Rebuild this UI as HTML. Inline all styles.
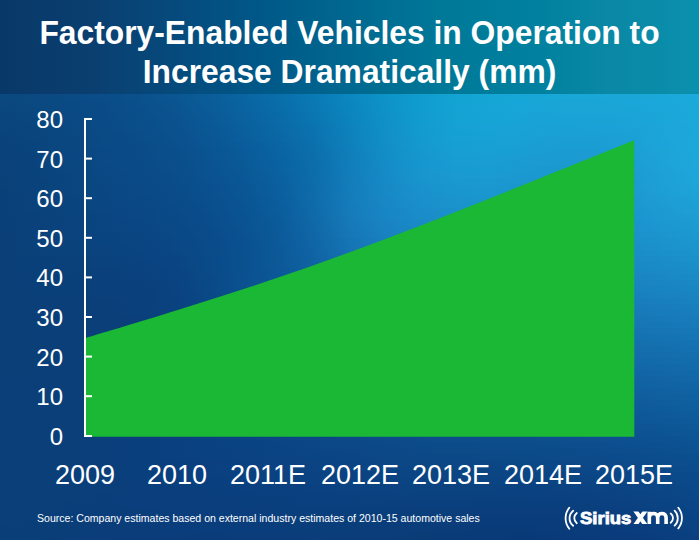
<!DOCTYPE html>
<html><head><meta charset="utf-8">
<style>
html,body{margin:0;padding:0;}
body{width:699px;height:540px;overflow:hidden;position:relative;font-family:"Liberation Sans",sans-serif;color:#fff;background:#0b4080;}
.r{position:absolute;left:0;width:699px;height:6px;}
#hdr{position:absolute;left:0;top:0;width:699px;height:94px;background:linear-gradient(90deg,#083868 0px,#0a3f70 90px,#064a7c 175px,#005888 260px,#006890 350px,#007898 440px,#00809e 525px,#0a88a5 610px,#0a90ad 699px);}
.title{position:absolute;left:0;width:699px;text-align:center;font-weight:bold;font-size:31.8px;white-space:nowrap;line-height:1;transform:scaleY(1.04);transform-origin:50% 0;}
.yl{position:absolute;right:636px;font-size:24px;line-height:1;text-align:right;}
.xl{position:absolute;font-size:27px;line-height:1;text-align:center;width:120px;}
#src{position:absolute;left:36.7px;top:511.5px;font-size:11.6px;letter-spacing:0;transform:scaleX(0.91);transform-origin:0 0;line-height:1;white-space:nowrap;}
</style></head><body>
<div class="r" style="top:94px;background:linear-gradient(90deg,#0a497f 0px,#0a4981 35px,#0a4b84 70px,#0a4d88 105px,#0a518c 140px,#0a5692 175px,#0a5d99 210px,#0965a2 245px,#096fab 280px,#097ab5 315px,#0b87bf 350px,#0d93c8 385px,#109cce 420px,#12a3d3 455px,#15a6d6 490px,#17a7d7 525px,#18a7d7 560px,#19a7d8 595px,#1aa7d8 630px,#1aa8d9 665px,#1aaadb 699px)"></div>
<div class="r" style="top:100px;background:linear-gradient(90deg,#0a487e 0px,#0a4981 35px,#0a4a84 70px,#0a4c87 105px,#0a508c 140px,#0a5591 175px,#0a5c98 210px,#0964a1 245px,#096eaa 280px,#0a79b4 315px,#0b86be 350px,#0e92c7 385px,#109cce 420px,#13a3d3 455px,#15a6d6 490px,#17a6d7 525px,#19a6d7 560px,#19a6d7 595px,#1aa6d8 630px,#1aa7d9 665px,#1baada 699px)"></div>
<div class="r" style="top:106px;background:linear-gradient(90deg,#0a477e 0px,#0a4880 35px,#0a4983 70px,#0a4c87 105px,#0a4f8b 140px,#0a5490 175px,#0a5b98 210px,#0963a0 245px,#096daa 280px,#0a78b3 315px,#0b85be 350px,#0e92c7 385px,#119cce 420px,#13a2d3 455px,#16a5d6 490px,#18a5d7 525px,#19a5d6 560px,#1aa5d6 595px,#1aa5d7 630px,#1ba7d9 665px,#1ba9da 699px)"></div>
<div class="r" style="top:112px;background:linear-gradient(90deg,#0a467d 0px,#0a4780 35px,#0a4983 70px,#0a4b86 105px,#0a4f8a 140px,#0a5390 175px,#0a5a97 210px,#0a629f 245px,#096ba9 280px,#0a77b2 315px,#0c84bd 350px,#0f91c7 385px,#119bce 420px,#14a2d3 455px,#16a4d6 490px,#18a4d6 525px,#19a3d6 560px,#1aa3d6 595px,#1aa4d7 630px,#1ba6d8 665px,#1ba9da 699px)"></div>
<div class="r" style="top:118px;background:linear-gradient(90deg,#0a457c 0px,#0a477f 35px,#0a4882 70px,#0a4b86 105px,#0a4e8a 140px,#0a528f 175px,#0a5996 210px,#0a619e 245px,#0a6aa7 280px,#0a76b1 315px,#0c83bd 350px,#0f90c7 385px,#129bce 420px,#14a1d3 455px,#16a4d5 490px,#18a3d6 525px,#19a2d5 560px,#1aa2d5 595px,#1ba3d6 630px,#1ba6d8 665px,#1ca9da 699px)"></div>
<div class="r" style="top:124px;background:linear-gradient(90deg,#0a457c 0px,#0a467e 35px,#0a4882 70px,#0a4b86 105px,#0a4e8a 140px,#0a528e 175px,#0a5895 210px,#0a609d 245px,#0a69a6 280px,#0a74b0 315px,#0d82bc 350px,#1090c7 385px,#139ace 420px,#15a1d3 455px,#17a3d5 490px,#19a2d5 525px,#19a1d5 560px,#1aa1d5 595px,#1ba2d6 630px,#1ca5d8 665px,#1ca8da 699px)"></div>
<div class="r" style="top:130px;background:linear-gradient(90deg,#0a447b 0px,#0a457e 35px,#0a4882 70px,#0a4a85 105px,#0a4d89 140px,#0a518e 175px,#0a5794 210px,#0a5f9d 245px,#0a68a5 280px,#0b73b0 315px,#0d81bc 350px,#118fc6 385px,#139ace 420px,#15a0d3 455px,#17a2d5 490px,#19a1d5 525px,#1aa0d4 560px,#1aa0d4 595px,#1ba1d5 630px,#1ca5d8 665px,#1ca8da 699px)"></div>
<div class="r" style="top:136px;background:linear-gradient(90deg,#0a437a 0px,#0a457d 35px,#0a4781 70px,#0a4a85 105px,#0a4d89 140px,#0a518d 175px,#0a5694 210px,#0a5e9c 245px,#0a67a4 280px,#0b72af 315px,#0e81bb 350px,#118fc6 385px,#1499ce 420px,#16a0d3 455px,#18a1d4 490px,#19a0d4 525px,#1a9ed3 560px,#1a9ed3 595px,#1ba0d5 630px,#1ca5d8 665px,#1da8da 699px)"></div>
<div class="r" style="top:142px;background:linear-gradient(90deg,#0a437a 0px,#0a447d 35px,#0a4781 70px,#0a4a85 105px,#0a4c88 140px,#0a508d 175px,#0a5593 210px,#0a5c9b 245px,#0a65a3 280px,#0b71ae 315px,#0e80bb 350px,#128ec6 385px,#1599ce 420px,#169fd3 455px,#18a0d4 490px,#199fd3 525px,#1a9dd3 560px,#1a9dd3 595px,#1ba0d4 630px,#1ca4d8 665px,#1da8da 699px)"></div>
<div class="r" style="top:148px;background:linear-gradient(90deg,#0a427a 0px,#0a447d 35px,#0a4781 70px,#0a4985 105px,#0a4c88 140px,#0a4f8c 175px,#0a5492 210px,#0a5b9a 245px,#0a64a3 280px,#0c70ad 315px,#0f7fba 350px,#138dc6 385px,#1598ce 420px,#179ed3 455px,#189fd3 490px,#199ed3 525px,#1a9cd2 560px,#1a9cd2 595px,#1b9fd4 630px,#1da4d7 665px,#1da8da 699px)"></div>
<div class="r" style="top:154px;background:linear-gradient(90deg,#0a4279 0px,#0a437c 35px,#0a4681 70px,#0a4984 105px,#0a4b88 140px,#0a4f8c 175px,#0a5492 210px,#0a5b99 245px,#0a63a2 280px,#0c6fac 315px,#107eba 350px,#138dc6 385px,#1697ce 420px,#179dd2 455px,#199ed3 490px,#1a9cd2 525px,#1a9bd1 560px,#1b9bd2 595px,#1b9ed4 630px,#1da3d7 665px,#1da7da 699px)"></div>
<div class="r" style="top:160px;background:linear-gradient(90deg,#0a4179 0px,#0a437c 35px,#0a4680 70px,#0a4984 105px,#0a4b87 140px,#0a4e8b 175px,#0a5391 210px,#0a5a98 245px,#0a62a1 280px,#0c6eac 315px,#107eba 350px,#148cc6 385px,#1696ce 420px,#189cd2 455px,#199dd2 490px,#1a9bd1 525px,#1a9ad1 560px,#1b9ad1 595px,#1b9dd3 630px,#1da3d7 665px,#1ea7da 699px)"></div>
<div class="r" style="top:166px;background:linear-gradient(90deg,#0a4179 0px,#0a437c 35px,#0a4680 70px,#0a4884 105px,#0a4b87 140px,#0a4e8b 175px,#0a5290 210px,#0a5997 245px,#0b62a0 280px,#0d6dac 315px,#117dba 350px,#158bc6 385px,#1796cd 420px,#189bd1 455px,#199cd2 490px,#1a9ad1 525px,#1a98d0 560px,#1b99d0 595px,#1c9cd3 630px,#1da2d7 665px,#1ea6da 699px)"></div>
<div class="r" style="top:172px;background:linear-gradient(90deg,#0a4178 0px,#0a437c 35px,#0a4580 70px,#0a4884 105px,#0a4a87 140px,#0a4d8a 175px,#0a5290 210px,#0a5897 245px,#0b619f 280px,#0d6dab 315px,#127dba 350px,#158bc6 385px,#1895cd 420px,#199ad1 455px,#1a9bd1 490px,#1a99d0 525px,#1a97cf 560px,#1b98d0 595px,#1c9bd2 630px,#1da1d6 665px,#1ea6d9 699px)"></div>
<div class="r" style="top:178px;background:linear-gradient(90deg,#0a4178 0px,#0a427b 35px,#0a457f 70px,#0a4883 105px,#0a4a86 140px,#0a4d8a 175px,#0a518f 210px,#0a5796 245px,#0b609f 280px,#0e6dab 315px,#137dba 350px,#168ac6 385px,#1894cc 420px,#1999d0 455px,#1a99d0 490px,#1a98cf 525px,#1a96cf 560px,#1b97cf 595px,#1c9ad2 630px,#1da1d6 665px,#1ea5d9 699px)"></div>
<div class="r" style="top:184px;background:linear-gradient(90deg,#0a4178 0px,#0a427b 35px,#0a457f 70px,#0a4783 105px,#0a4986 140px,#0a4c8a 175px,#0a508f 210px,#0a5695 245px,#0b5f9e 280px,#0e6cab 315px,#137cba 350px,#1789c5 385px,#1992cc 420px,#1997cf 455px,#1a98cf 490px,#1a96ce 525px,#1b95ce 560px,#1b96cf 595px,#1c9ad1 630px,#1da0d5 665px,#1ea4d8 699px)"></div>
<div class="r" style="top:190px;background:linear-gradient(90deg,#0a4078 0px,#0a427b 35px,#0a457f 70px,#0a4782 105px,#0a4986 140px,#0a4b89 175px,#0a508e 210px,#0a5695 245px,#0b5f9e 280px,#0f6cab 315px,#147cba 350px,#1789c5 385px,#1991cb 420px,#1a96ce 455px,#1a97ce 490px,#1a95ce 525px,#1b94cd 560px,#1b95ce 595px,#1c99d1 630px,#1d9fd5 665px,#1da3d7 699px)"></div>
<div class="r" style="top:196px;background:linear-gradient(90deg,#0a4078 0px,#0a427b 35px,#0a447f 70px,#0a4782 105px,#0a4885 140px,#0a4b89 175px,#0a4f8e 210px,#0a5594 245px,#0b5e9d 280px,#0f6cab 315px,#157cba 350px,#1888c5 385px,#1990cb 420px,#1a94cd 455px,#1a95cd 490px,#1a94cd 525px,#1b93cd 560px,#1b94cd 595px,#1c98d0 630px,#1d9dd4 665px,#1da1d7 699px)"></div>
<div class="r" style="top:202px;background:linear-gradient(90deg,#0a4078 0px,#0a427b 35px,#0a447e 70px,#0a4682 105px,#0a4885 140px,#0a4a88 175px,#0a4e8d 210px,#0a5493 245px,#0b5d9c 280px,#106baa 315px,#157bba 350px,#1887c4 385px,#1a8fca 420px,#1a93cc 455px,#1a94cc 490px,#1a93cc 525px,#1b92cc 560px,#1b93cd 595px,#1c97cf 630px,#1c9cd3 665px,#1da0d6 699px)"></div>
<div class="r" style="top:208px;background:linear-gradient(90deg,#0a4078 0px,#0a427b 35px,#0a447e 70px,#0a4681 105px,#0a4784 140px,#0a4a88 175px,#0a4e8d 210px,#0a5493 245px,#0b5d9c 280px,#106aaa 315px,#167bba 350px,#1886c4 385px,#1a8dc9 420px,#1a91cb 455px,#1a92cb 490px,#1a91cb 525px,#1b91cb 560px,#1b92cc 595px,#1b96cf 630px,#1c9bd2 665px,#1d9fd5 699px)"></div>
<div class="r" style="top:214px;background:linear-gradient(90deg,#0a4078 0px,#0a417a 35px,#0a437e 70px,#0a4581 105px,#0a4784 140px,#0a4988 175px,#0a4d8c 210px,#0a5392 245px,#0b5c9b 280px,#106aa9 315px,#167ab9 350px,#1985c3 385px,#1a8cc8 420px,#1a90c9 455px,#1a91ca 490px,#1a90ca 525px,#1b8fca 560px,#1b91cb 595px,#1b94ce 630px,#1c9ad1 665px,#1c9dd4 699px)"></div>
<div class="r" style="top:220px;background:linear-gradient(90deg,#0a4078 0px,#0a417a 35px,#0a437e 70px,#0a4581 105px,#0a4684 140px,#0a4987 175px,#0a4d8c 210px,#0a5392 245px,#0b5b9b 280px,#1069a8 315px,#1679b9 350px,#1983c2 385px,#1a8ac7 420px,#1a8ec8 455px,#1a8fc9 490px,#1a8fc9 525px,#1a8ec9 560px,#1b90ca 595px,#1b93cd 630px,#1c98d1 665px,#1c9cd3 699px)"></div>
<div class="r" style="top:226px;background:linear-gradient(90deg,#0a4078 0px,#0a417a 35px,#0a437d 70px,#0a4580 105px,#0a4683 140px,#0a4887 175px,#0a4c8b 210px,#0a5291 245px,#0b5b9a 280px,#1068a8 315px,#1678b8 350px,#1982c1 385px,#1a89c6 420px,#1a8cc7 455px,#1a8dc8 490px,#1a8dc8 525px,#1a8dc8 560px,#1b8ec9 595px,#1b92cc 630px,#1c97d0 665px,#1c9ad2 699px)"></div>
<div class="r" style="top:232px;background:linear-gradient(90deg,#0a4077 0px,#0a417a 35px,#0a437d 70px,#0a4480 105px,#0a4582 140px,#0a4886 175px,#0a4c8b 210px,#0a5291 245px,#0c5a99 280px,#1067a7 315px,#1677b7 350px,#1981c0 385px,#1a87c4 420px,#1a8bc6 455px,#1a8cc6 490px,#1a8cc7 525px,#1a8cc7 560px,#1a8dc8 595px,#1b91cb 630px,#1b95ce 665px,#1c99d1 699px)"></div>
<div class="r" style="top:238px;background:linear-gradient(90deg,#0a4077 0px,#0a417a 35px,#0a427d 70px,#0a447f 105px,#0a4582 140px,#0a4786 175px,#0a4b8a 210px,#0a5191 245px,#0c5a99 280px,#1066a6 315px,#1575b5 350px,#197fbf 385px,#1a85c3 420px,#1a89c5 455px,#1a8ac5 490px,#1a8ac5 525px,#1a8ac6 560px,#1a8cc7 595px,#1b8fca 630px,#1b93cd 665px,#1b97cf 699px)"></div>
<div class="r" style="top:244px;background:linear-gradient(90deg,#0a4077 0px,#0a417a 35px,#0a427c 70px,#0a437f 105px,#0a4481 140px,#0a4785 175px,#0a4b8a 210px,#0a5191 245px,#0c5999 280px,#1066a5 315px,#1574b4 350px,#187ebd 385px,#1a84c2 420px,#1a87c3 455px,#1a88c4 490px,#1a88c4 525px,#1a89c5 560px,#1a8ac6 595px,#1b8dc9 630px,#1b92cc 665px,#1b95ce 699px)"></div>
<div class="r" style="top:250px;background:linear-gradient(90deg,#0a4077 0px,#0a4179 35px,#0a427c 70px,#0a437e 105px,#0a4480 140px,#0a4684 175px,#0a4b89 210px,#0a5190 245px,#0c5999 280px,#1065a5 315px,#1572b3 350px,#187cbc 385px,#1982c0 420px,#1a85c2 455px,#1a87c2 490px,#1a87c3 525px,#1a87c3 560px,#1a89c5 595px,#1a8cc8 630px,#1b90cb 665px,#1b93cd 699px)"></div>
<div class="r" style="top:256px;background:linear-gradient(90deg,#0a4077 0px,#0a4079 35px,#0a417b 70px,#0a427e 105px,#0a4380 140px,#0a4583 175px,#0a4a89 210px,#0a5190 245px,#0c5998 280px,#1064a4 315px,#1571b1 350px,#187aba 385px,#1980be 420px,#1984c0 455px,#1a85c1 490px,#1985c1 525px,#1986c2 560px,#1a87c4 595px,#1a8ac6 630px,#1a8ec9 665px,#1b91cb 699px)"></div>
<div class="r" style="top:262px;background:linear-gradient(90deg,#0a4077 0px,#0a4079 35px,#0a417b 70px,#0a427d 105px,#0a427f 140px,#0a4582 175px,#0a4a89 210px,#0a5190 245px,#0c5998 280px,#1063a3 315px,#1470b0 350px,#1779b8 385px,#197ebd 420px,#1982bf 455px,#1983bf 490px,#1983c0 525px,#1984c1 560px,#1986c2 595px,#1a88c5 630px,#1a8cc8 665px,#1a8fca 699px)"></div>
<div class="r" style="top:268px;background:linear-gradient(90deg,#0a3f77 0px,#0a4079 35px,#0a417b 70px,#0a417c 105px,#0a427e 140px,#0a4482 175px,#0a4a88 210px,#0a5190 245px,#0c5898 280px,#1062a3 315px,#146eae 350px,#1777b7 385px,#187dbb 420px,#1980bd 455px,#1981be 490px,#1982bf 525px,#1982bf 560px,#1984c1 595px,#1a87c4 630px,#1a8ac6 665px,#1a8dc8 699px)"></div>
<div class="r" style="top:274px;background:linear-gradient(90deg,#0a3f77 0px,#0a4079 35px,#0a407a 70px,#0a417c 105px,#0a417e 140px,#0a4481 175px,#0a4988 210px,#0b5190 245px,#0c5898 280px,#0f62a2 315px,#146dad 350px,#1775b5 385px,#187bba 420px,#197ebc 455px,#197fbc 490px,#1980bd 525px,#1981be 560px,#1982c0 595px,#1985c2 630px,#1a88c5 665px,#1a8bc7 699px)"></div>
<div class="r" style="top:280px;background:linear-gradient(90deg,#0a3f77 0px,#0a4079 35px,#0a407a 70px,#0a407b 105px,#0a417d 140px,#0a4380 175px,#0a4987 210px,#0b5190 245px,#0c5898 280px,#0f61a1 315px,#136bac 350px,#1673b3 385px,#1879b8 420px,#187cba 455px,#187dbb 490px,#187ebb 525px,#187fbc 560px,#1980be 595px,#1983c1 630px,#1986c3 665px,#1a88c5 699px)"></div>
<div class="r" style="top:286px;background:linear-gradient(90deg,#0a3f77 0px,#0a4078 35px,#0a407a 70px,#0a407b 105px,#0a407c 140px,#0a4380 175px,#0a4987 210px,#0b5190 245px,#0c5797 280px,#0f60a0 315px,#136aaa 350px,#1672b2 385px,#1777b6 420px,#187ab8 455px,#187cb9 490px,#187cba 525px,#187dbb 560px,#187fbd 595px,#1981bf 630px,#1984c2 665px,#1986c4 699px)"></div>
<div class="r" style="top:292px;background:linear-gradient(90deg,#0a3f77 0px,#0a4078 35px,#0a407a 70px,#0a407b 105px,#0a407c 140px,#0a437f 175px,#0a4887 210px,#0b5090 245px,#0c5797 280px,#0f5fa0 315px,#1368a9 350px,#1570b0 385px,#1775b4 420px,#1778b6 455px,#187ab7 490px,#187ab8 525px,#187bb9 560px,#187dbb 595px,#187fbd 630px,#1982c0 665px,#1984c2 699px)"></div>
<div class="r" style="top:298px;background:linear-gradient(90deg,#0a3f77 0px,#0a3f78 35px,#0a3f79 70px,#0a3f7a 105px,#0a407c 140px,#0a427f 175px,#0a4886 210px,#0b508f 245px,#0c5697 280px,#0f5e9f 315px,#1267a7 350px,#156eae 385px,#1673b2 420px,#1776b5 455px,#1778b6 490px,#1779b7 525px,#1779b8 560px,#177bb9 595px,#187dbc 630px,#187fbe 665px,#1982c0 699px)"></div>
<div class="r" style="top:304px;background:linear-gradient(90deg,#0a3f77 0px,#0a3f78 35px,#0a3f79 70px,#0a3f7a 105px,#0a407c 140px,#0a427f 175px,#0a4886 210px,#0b4f8f 245px,#0c5696 280px,#0f5d9e 315px,#1265a6 350px,#156cad 385px,#1671b1 420px,#1774b3 455px,#1776b4 490px,#1777b5 525px,#1778b6 560px,#1779b8 595px,#177bba 630px,#187dbc 665px,#1880be 699px)"></div>
<div class="r" style="top:310px;background:linear-gradient(90deg,#0a3f77 0px,#0a3f78 35px,#0a3f79 70px,#0a3f7a 105px,#0a407b 140px,#0a427f 175px,#0a4886 210px,#0b4f8e 245px,#0c5595 280px,#0f5c9d 315px,#1264a5 350px,#146bab 385px,#156faf 420px,#1672b1 455px,#1674b2 490px,#1675b3 525px,#1676b4 560px,#1777b6 595px,#1779b8 630px,#187bbb 665px,#187ebd 699px)"></div>
<div class="r" style="top:316px;background:linear-gradient(90deg,#0a3f77 0px,#0a3f78 35px,#0a3f79 70px,#0a3f7a 105px,#0a3f7b 140px,#0a427f 175px,#0a4786 210px,#0b4e8e 245px,#0c5595 280px,#0f5b9c 315px,#1163a3 350px,#1469a9 385px,#156dad 420px,#1670af 455px,#1672b0 490px,#1673b1 525px,#1674b3 560px,#1675b4 595px,#1777b6 630px,#1779b9 665px,#177cbb 699px)"></div>
<div class="r" style="top:322px;background:linear-gradient(90deg,#0a3f77 0px,#0a3f78 35px,#0a3f79 70px,#0a3f7a 105px,#0a3f7b 140px,#0a427f 175px,#0a4785 210px,#0b4e8d 245px,#0c5494 280px,#0f5a9b 315px,#1161a2 350px,#1367a7 385px,#156bab 420px,#156ead 455px,#1570af 490px,#1571b0 525px,#1672b1 560px,#1673b2 595px,#1675b5 630px,#1677b7 665px,#177ab9 699px)"></div>
<div class="r" style="top:328px;background:linear-gradient(90deg,#0a3f77 0px,#0a3f78 35px,#0a3f79 70px,#0a3f7a 105px,#0a3f7b 140px,#0a427f 175px,#0a4785 210px,#0b4d8d 245px,#0c5393 280px,#0e599a 315px,#1160a0 350px,#1365a6 385px,#146aa9 420px,#156cab 455px,#156ead 490px,#156fae 525px,#1570af 560px,#1571b1 595px,#1673b3 630px,#1675b5 665px,#1677b7 699px)"></div>
<div class="r" style="top:334px;background:linear-gradient(90deg,#0a3f77 0px,#0a3f78 35px,#0a3f79 70px,#0a3f7a 105px,#0a3f7b 140px,#0a427f 175px,#0a4785 210px,#0b4c8c 245px,#0c5293 280px,#0e5899 315px,#105e9f 350px,#1264a4 385px,#1468a8 420px,#146aaa 455px,#146cab 490px,#146dac 525px,#156ead 560px,#156faf 595px,#1571b1 630px,#1573b3 665px,#1575b5 699px)"></div>
<div class="r" style="top:340px;background:linear-gradient(90deg,#0a4077 0px,#0a3f78 35px,#0a3f79 70px,#0a3f7a 105px,#0a3f7c 140px,#0a427f 175px,#0a4685 210px,#0b4c8b 245px,#0c5192 280px,#0e5798 315px,#105d9e 350px,#1262a2 385px,#1366a6 420px,#1468a8 455px,#146aa9 490px,#146baa 525px,#146cab 560px,#146dad 595px,#156faf 630px,#1571b1 665px,#1573b3 699px)"></div>
<div class="r" style="top:346px;background:linear-gradient(90deg,#0a4077 0px,#0a3f78 35px,#0a3f79 70px,#0a3f7a 105px,#0a3f7c 140px,#0a427f 175px,#0a4685 210px,#0b4b8b 245px,#0c5191 280px,#0e5697 315px,#105b9c 350px,#1160a1 385px,#1364a4 420px,#1366a6 455px,#1368a7 490px,#1469a8 525px,#146aa9 560px,#146bab 595px,#146dad 630px,#146faf 665px,#1471b1 699px)"></div>
<div class="r" style="top:352px;background:linear-gradient(90deg,#0a4077 0px,#0a3f78 35px,#0a3f79 70px,#0a3f7a 105px,#0a3f7c 140px,#0a427f 175px,#0a4684 210px,#0b4b8a 245px,#0c5090 280px,#0e5596 315px,#105a9b 350px,#115f9f 385px,#1262a2 420px,#1365a4 455px,#1366a5 490px,#1367a6 525px,#1368a8 560px,#1369a9 595px,#136bab 630px,#146dad 665px,#146faf 699px)"></div>
<div class="r" style="top:358px;background:linear-gradient(90deg,#0a4077 0px,#0a3f78 35px,#0a3f79 70px,#0a3f7a 105px,#0a3f7c 140px,#0a427f 175px,#0a4584 210px,#0b4a8a 245px,#0c4f8f 280px,#0e5495 315px,#0f5999 350px,#115d9d 385px,#1260a0 420px,#1263a2 455px,#1264a3 490px,#1365a4 525px,#1366a6 560px,#1367a7 595px,#1369a9 630px,#136bab 665px,#136dad 699px)"></div>
<div class="r" style="top:364px;background:linear-gradient(90deg,#0a4077 0px,#0a3f78 35px,#0a3f79 70px,#0a3f7a 105px,#0a3f7c 140px,#0a417f 175px,#0a4584 210px,#0b4a89 245px,#0c4e8f 280px,#0d5393 315px,#0f5798 350px,#105b9c 385px,#115e9e 420px,#1261a0 455px,#1262a1 490px,#1263a2 525px,#1264a4 560px,#1265a5 595px,#1267a7 630px,#1269a9 665px,#126bab 699px)"></div>
<div class="r" style="top:370px;background:linear-gradient(90deg,#0a4077 0px,#0a3f78 35px,#0a3f79 70px,#0a3f7a 105px,#0a3f7c 140px,#0a417f 175px,#0a4584 210px,#0b4989 245px,#0c4d8e 280px,#0d5292 315px,#0f5697 350px,#105a9a 385px,#115d9d 420px,#115f9e 455px,#11609f 490px,#1161a1 525px,#1262a2 560px,#1263a3 595px,#1265a5 630px,#1267a7 665px,#1269a9 699px)"></div>
<div class="r" style="top:376px;background:linear-gradient(90deg,#0a4078 0px,#0a3f79 35px,#0a3f79 70px,#0a3f7b 105px,#0a3f7c 140px,#0a417f 175px,#0a4584 210px,#0b4888 245px,#0c4c8d 280px,#0d5091 315px,#0e5495 350px,#0f5898 385px,#105b9b 420px,#115d9c 455px,#115e9e 490px,#115f9f 525px,#1160a0 560px,#1161a1 595px,#1163a3 630px,#1165a5 665px,#1167a7 699px)"></div>
<div class="r" style="top:382px;background:linear-gradient(90deg,#0a4078 0px,#0a3f79 35px,#0a3f7a 70px,#0a3f7b 105px,#0a3f7d 140px,#0a4180 175px,#0a4483 210px,#0b4888 245px,#0c4c8c 280px,#0d4f90 315px,#0e5394 350px,#0f5697 385px,#105999 420px,#105b9b 455px,#105d9c 490px,#105d9d 525px,#115e9e 560px,#1160a0 595px,#1161a1 630px,#1163a3 665px,#1165a5 699px)"></div>
<div class="r" style="top:388px;background:linear-gradient(90deg,#0a4078 0px,#0a3f79 35px,#0a3f7a 70px,#0a3f7b 105px,#0a3f7d 140px,#0a4180 175px,#0a4483 210px,#0b4787 245px,#0c4b8b 280px,#0d4e8f 315px,#0e5292 350px,#0f5595 385px,#0f5897 420px,#105999 455px,#105b9a 490px,#105c9b 525px,#105c9c 560px,#105e9e 595px,#105f9f 630px,#1061a1 665px,#1063a3 699px)"></div>
<div class="r" style="top:394px;background:linear-gradient(90deg,#0a3f78 0px,#0a3f79 35px,#0a3f7a 70px,#0a3f7b 105px,#0a3f7d 140px,#0a4180 175px,#0a4483 210px,#0b4787 245px,#0c4a8b 280px,#0c4d8e 315px,#0d5091 350px,#0e5394 385px,#0f5696 420px,#0f5897 455px,#0f5998 490px,#0f5a99 525px,#105b9a 560px,#105c9c 595px,#105d9d 630px,#105f9f 665px,#1061a1 699px)"></div>
<div class="r" style="top:400px;background:linear-gradient(90deg,#0a3f78 0px,#0a3f79 35px,#0a3f7a 70px,#0a3f7b 105px,#0a3f7d 140px,#0a4180 175px,#0a4383 210px,#0b4686 245px,#0b498a 280px,#0c4c8d 315px,#0d4f90 350px,#0e5292 385px,#0f5494 420px,#0f5695 455px,#0f5796 490px,#0f5897 525px,#0f5998 560px,#0f5a9a 595px,#0f5b9c 630px,#0f5d9d 665px,#0f5fa0 699px)"></div>
<div class="r" style="top:406px;background:linear-gradient(90deg,#0a3f78 0px,#0a3f79 35px,#0a3f7a 70px,#0a3f7b 105px,#0a3f7d 140px,#0a4180 175px,#0a4383 210px,#0b4686 245px,#0b4889 280px,#0c4b8c 315px,#0d4e8e 350px,#0e5091 385px,#0e5392 420px,#0e5494 455px,#0e5594 490px,#0f5695 525px,#0f5796 560px,#0f5898 595px,#0f599a 630px,#0e5b9b 665px,#0e5e9e 699px)"></div>
<div class="r" style="top:412px;background:linear-gradient(90deg,#0a3f78 0px,#0a3f79 35px,#0a3f7a 70px,#0a3f7b 105px,#0a3f7d 140px,#0a4180 175px,#0a4382 210px,#0b4585 245px,#0b4888 280px,#0c4a8b 315px,#0d4d8d 350px,#0d4f8f 385px,#0e5191 420px,#0e5392 455px,#0e5492 490px,#0e5493 525px,#0e5595 560px,#0e5696 595px,#0e5798 630px,#0e599a 665px,#0e5c9c 699px)"></div>
<div class="r" style="top:418px;background:linear-gradient(90deg,#0a3f78 0px,#0a3f79 35px,#0a3f7a 70px,#0a3f7b 105px,#0a3f7d 140px,#0a4180 175px,#0a4282 210px,#0b4585 245px,#0b4787 280px,#0c498a 315px,#0c4b8c 350px,#0d4e8e 385px,#0d508f 420px,#0d5190 455px,#0d5291 490px,#0e5392 525px,#0e5393 560px,#0e5494 595px,#0e5696 630px,#0e5798 665px,#0d5a9a 699px)"></div>
<div class="r" style="top:424px;background:linear-gradient(90deg,#0a3f78 0px,#0a3f79 35px,#0a3f7a 70px,#0a3f7c 105px,#0a3f7d 140px,#0a4080 175px,#0a4282 210px,#0b4484 245px,#0b4687 280px,#0c4889 315px,#0c4a8b 350px,#0d4c8c 385px,#0d4e8e 420px,#0d508e 455px,#0d508f 490px,#0d5190 525px,#0e5291 560px,#0e5393 595px,#0d5494 630px,#0d5696 665px,#0d5898 699px)"></div>
<div class="r" style="top:430px;background:linear-gradient(90deg,#0a3f78 0px,#0a3f79 35px,#0a3f7a 70px,#0a3f7c 105px,#0a3f7d 140px,#0a4080 175px,#0a4282 210px,#0b4484 245px,#0b4686 280px,#0b4788 315px,#0c4989 350px,#0c4b8b 385px,#0d4d8c 420px,#0d4e8d 455px,#0d4f8d 490px,#0d4f8e 525px,#0d508f 560px,#0d5191 595px,#0d5292 630px,#0d5494 665px,#0d5696 699px)"></div>
<div class="r" style="top:436px;background:linear-gradient(90deg,#0a3f78 0px,#0a3f79 35px,#0a3f7a 70px,#0a3f7c 105px,#0a3f7d 140px,#0a407f 175px,#0a4281 210px,#0a4383 245px,#0b4585 280px,#0b4687 315px,#0c4888 350px,#0c4a8a 385px,#0c4c8b 420px,#0c4d8b 455px,#0c4d8c 490px,#0c4e8c 525px,#0d4e8e 560px,#0d4f8f 595px,#0d5091 630px,#0c5292 665px,#0c5494 699px)"></div>
<div class="r" style="top:442px;background:linear-gradient(90deg,#0a3f78 0px,#0a3f79 35px,#0a3f7a 70px,#0a3f7c 105px,#0a3f7d 140px,#0a407f 175px,#0a4181 210px,#0a4383 245px,#0b4484 280px,#0b4686 315px,#0c4787 350px,#0c4988 385px,#0c4a89 420px,#0c4b8a 455px,#0c4c8a 490px,#0c4c8b 525px,#0c4d8c 560px,#0d4d8d 595px,#0c4f8f 630px,#0c5091 665px,#0c5393 699px)"></div>
<div class="r" style="top:448px;background:linear-gradient(90deg,#0a3f78 0px,#0a3f79 35px,#0a3f7a 70px,#0a3f7c 105px,#0a3f7d 140px,#0a407f 175px,#0a4181 210px,#0a4282 245px,#0b4484 280px,#0b4585 315px,#0b4686 350px,#0c4887 385px,#0c4988 420px,#0c4a88 455px,#0c4a89 490px,#0c4b89 525px,#0c4b8a 560px,#0c4c8c 595px,#0c4d8d 630px,#0c4f8f 665px,#0c5191 699px)"></div>
<div class="r" style="top:454px;background:linear-gradient(90deg,#0a3f78 0px,#0a3f79 35px,#0a3f7a 70px,#0a3f7c 105px,#0a3f7d 140px,#0a407f 175px,#0a4180 210px,#0a4282 245px,#0b4383 280px,#0b4484 315px,#0b4585 350px,#0c4786 385px,#0c4887 420px,#0b4887 455px,#0b4987 490px,#0c4988 525px,#0c4a89 560px,#0c4a8a 595px,#0c4c8c 630px,#0b4d8d 665px,#0b4f8f 699px)"></div>
<div class="r" style="top:460px;background:linear-gradient(90deg,#0a3f78 0px,#0a3f79 35px,#0a3f7a 70px,#0a3f7c 105px,#0a3f7d 140px,#0a3f7f 175px,#0a4080 210px,#0a4181 245px,#0b4282 280px,#0b4383 315px,#0b4484 350px,#0b4685 385px,#0b4785 420px,#0b4786 455px,#0b4786 490px,#0b4886 525px,#0c4887 560px,#0c4989 595px,#0c4a8a 630px,#0b4c8c 665px,#0b4e8e 699px)"></div>
<div class="r" style="top:466px;background:linear-gradient(90deg,#0a3f78 0px,#0a3f79 35px,#0a3f7a 70px,#0a3f7c 105px,#0a3f7d 140px,#0a3f7e 175px,#0a4080 210px,#0a4181 245px,#0b4282 280px,#0b4383 315px,#0b4483 350px,#0b4584 385px,#0b4684 420px,#0b4684 455px,#0b4684 490px,#0b4685 525px,#0b4786 560px,#0c4787 595px,#0b4989 630px,#0b4a8a 665px,#0b4d8d 699px)"></div>
<div class="r" style="top:472px;background:linear-gradient(90deg,#0a3f78 0px,#0a3f79 35px,#0a3f7a 70px,#0a3f7c 105px,#0a3f7d 140px,#0a3f7e 175px,#0a407f 210px,#0a4180 245px,#0a4181 280px,#0b4282 315px,#0b4382 350px,#0b4483 385px,#0b4583 420px,#0b4583 455px,#0b4583 490px,#0b4583 525px,#0b4584 560px,#0b4686 595px,#0b4787 630px,#0b4989 665px,#0b4b8b 699px)"></div>
<div class="r" style="top:478px;background:linear-gradient(90deg,#0a3f78 0px,#0a3f79 35px,#0a3f7a 70px,#0a3f7b 105px,#0a3f7d 140px,#0a3f7e 175px,#0a3f7f 210px,#0a4080 245px,#0a4180 280px,#0b4281 315px,#0b4281 350px,#0b4382 385px,#0b4482 420px,#0b4482 455px,#0a4482 490px,#0b4482 525px,#0b4483 560px,#0b4584 595px,#0b4686 630px,#0b4888 665px,#0b4a8a 699px)"></div>
<div class="r" style="top:484px;background:linear-gradient(90deg,#0a3f78 0px,#0a3f79 35px,#0a3f7a 70px,#0a3f7b 105px,#0a3e7c 140px,#0a3f7e 175px,#0a3f7e 210px,#0a407f 245px,#0a4080 280px,#0b4180 315px,#0b4281 350px,#0b4281 385px,#0b4381 420px,#0a4380 455px,#0a4380 490px,#0a4281 525px,#0b4382 560px,#0b4383 595px,#0b4585 630px,#0b4687 665px,#0b4989 699px)"></div>
<div class="r" style="top:490px;background:linear-gradient(90deg,#0b3f78 0px,#0a3f79 35px,#0a3f7a 70px,#0a3e7b 105px,#0a3e7c 140px,#0a3e7d 175px,#0a3f7e 210px,#0a3f7e 245px,#0a407f 280px,#0b407f 315px,#0b4180 350px,#0b4180 385px,#0a427f 420px,#0a427f 455px,#0a417f 490px,#0a4180 525px,#0b4180 560px,#0b4282 595px,#0b4383 630px,#0b4585 665px,#0b4888 699px)"></div>
<div class="r" style="top:496px;background:linear-gradient(90deg,#0b3f78 0px,#0a3f79 35px,#0a3f7a 70px,#0a3e7b 105px,#0a3e7c 140px,#0a3e7d 175px,#0a3e7d 210px,#0a3f7e 245px,#0a3f7e 280px,#0a407f 315px,#0b407f 350px,#0b417f 385px,#0a417e 420px,#0a417e 455px,#0a407e 490px,#0a407e 525px,#0a407f 560px,#0b4180 595px,#0b4282 630px,#0b4484 665px,#0b4787 699px)"></div>
<div class="r" style="top:502px;background:linear-gradient(90deg,#0a3f78 0px,#0a3f79 35px,#0a3e7a 70px,#0a3e7b 105px,#0a3e7c 140px,#0a3e7c 175px,#0a3e7d 210px,#0a3f7d 245px,#0a3f7e 280px,#0a407e 315px,#0b407e 350px,#0a407e 385px,#0a407d 420px,#0a407d 455px,#0a3f7d 490px,#0a3f7d 525px,#0a3f7e 560px,#0b407f 595px,#0b4181 630px,#0a4383 665px,#0a4686 699px)"></div>
<div class="r" style="top:508px;background:linear-gradient(90deg,#0a3f78 0px,#0a3f79 35px,#0a3e7a 70px,#0a3e7b 105px,#0a3e7b 140px,#0a3e7c 175px,#0a3e7c 210px,#0a3e7d 245px,#0a3f7d 280px,#0a3f7d 315px,#0a3f7d 350px,#0a3f7d 385px,#0a3f7c 420px,#0a3f7c 455px,#0a3e7c 490px,#0a3e7c 525px,#0a3e7d 560px,#0a3f7e 595px,#0a4080 630px,#0a4282 665px,#0a4585 699px)"></div>
<div class="r" style="top:514px;background:linear-gradient(90deg,#0a3f78 0px,#0a3f79 35px,#0a3e7a 70px,#0a3e7a 105px,#0a3d7b 140px,#0a3d7c 175px,#0a3e7c 210px,#0a3e7c 245px,#0a3e7c 280px,#0a3f7c 315px,#0a3f7c 350px,#0a3f7c 385px,#0a3e7b 420px,#0a3e7b 455px,#0a3d7b 490px,#0a3d7b 525px,#0a3d7c 560px,#0a3e7d 595px,#0a3f7f 630px,#0a4181 665px,#0a4484 699px)"></div>
<div class="r" style="top:520px;background:linear-gradient(90deg,#0a3f78 0px,#0a3e79 35px,#0a3e79 70px,#0a3e7a 105px,#0a3d7b 140px,#0a3d7b 175px,#0a3d7b 210px,#0a3d7b 245px,#0a3e7b 280px,#0a3e7b 315px,#0a3e7b 350px,#0a3e7b 385px,#0a3e7a 420px,#0a3d7a 455px,#093c7a 490px,#093c7a 525px,#0a3c7b 560px,#0a3d7c 595px,#0a3e7e 630px,#0a4080 665px,#0a4383 699px)"></div>
<div class="r" style="top:526px;background:linear-gradient(90deg,#0a3e78 0px,#0a3e79 35px,#0a3e79 70px,#0a3d7a 105px,#0a3d7a 140px,#0a3d7b 175px,#0a3d7b 210px,#0a3d7b 245px,#0a3d7b 280px,#0a3e7b 315px,#0a3e7a 350px,#0a3d7a 385px,#0a3d79 420px,#093c79 455px,#093b79 490px,#093b79 525px,#0a3b7a 560px,#0a3c7b 595px,#0a3d7d 630px,#0a3f7f 665px,#0a4282 699px)"></div>
<div class="r" style="top:532px;background:linear-gradient(90deg,#0a3e78 0px,#0a3e78 35px,#0a3e79 70px,#0a3d7a 105px,#0a3d7a 140px,#0a3d7a 175px,#0a3c7a 210px,#0a3d7a 245px,#0a3d7a 280px,#0a3d7a 315px,#0a3d79 350px,#0a3d79 385px,#0a3c78 420px,#093b78 455px,#093b78 490px,#093a78 525px,#0a3a79 560px,#0a3b7a 595px,#0a3c7c 630px,#0a3e7e 665px,#0a4181 699px)"></div>
<div class="r" style="top:538px;background:linear-gradient(90deg,#0a3e77 0px,#0a3e78 35px,#0a3d79 70px,#0a3d79 105px,#0a3c7a 140px,#0a3c7a 175px,#0a3c7a 210px,#0a3c7a 245px,#0a3c79 280px,#0a3d79 315px,#0a3d78 350px,#0a3c78 385px,#093b77 420px,#093a77 455px,#093a77 490px,#093977 525px,#093978 560px,#0a3a79 595px,#0a3b7b 630px,#0a3d7d 665px,#0a4080 699px)"></div>
<div id="hdr"></div>
<div class="title" style="top:17px">Factory-Enabled Vehicles in Operation to</div>
<div class="title" style="top:56px">Increase Dramatically (mm)</div>
<svg style="position:absolute;left:0;top:0" width="699" height="540">
<path fill="#1bb836" d="M85.5,338.0 C100.8,333.4 146.5,319.7 177.0,310.2 C207.5,300.7 238.0,291.1 268.5,280.8 C299.0,270.5 329.5,259.7 360.0,248.5 C390.5,237.3 421.0,225.3 451.5,213.4 C482.0,201.5 512.5,189.1 543.0,176.9 C573.5,164.7 619.1,146.3 634.3,140.2 L634.3,436.8 L85.5,436.8 Z"/>
<g fill="#fff">
<rect x="84" y="118" width="2" height="319"/>
<rect x="84" y="118" width="8" height="2"/>
<rect x="84" y="157.6" width="8" height="2"/>
<rect x="84" y="197.2" width="8" height="2"/>
<rect x="84" y="236.8" width="8" height="2"/>
<rect x="84" y="276.4" width="8" height="2"/>
<rect x="84" y="316" width="8" height="2"/>
<rect x="84" y="355.6" width="8" height="2"/>
<rect x="84" y="395.2" width="8" height="2"/>
<rect x="84" y="435" width="8" height="2"/>
</g>
</svg>
<div class="yl" style="top:108px">80</div>
<div class="yl" style="top:148px">70</div>
<div class="yl" style="top:187px">60</div>
<div class="yl" style="top:227px">50</div>
<div class="yl" style="top:266px">40</div>
<div class="yl" style="top:306px">30</div>
<div class="yl" style="top:346px">20</div>
<div class="yl" style="top:385px">10</div>
<div class="yl" style="top:425px">0</div>
<div class="xl" style="left:25px;top:462px">2009</div>
<div class="xl" style="left:117px;top:462px">2010</div>
<div class="xl" style="left:208px;top:462px">2011E</div>
<div class="xl" style="left:300px;top:462px">2012E</div>
<div class="xl" style="left:391px;top:462px">2013E</div>
<div class="xl" style="left:483px;top:462px">2014E</div>
<div class="xl" style="left:574px;top:462px">2015E</div>
<div id="src">Source: Company estimates based on external industry estimates of 2010-15 automotive sales</div>
<svg style="position:absolute;left:0;top:0" width="699" height="540">
<g fill="none" stroke="#fff" stroke-linecap="round" stroke-width="1.8">
<path d="M569.3,507.8 A16.5,16.5 0 0 0 569.3,528.7"/>
<path d="M573.2,510.7 A9.65,9.65 0 0 0 573.2,525.8"/>
<path d="M576.8,513 A6.4,6.4 0 0 0 576.8,523.2"/>
<path d="M678.3,507.8 A16.4,16.4 0 0 1 678.3,528.4"/>
<path d="M674.6,510.7 A10.3,10.3 0 0 1 674.6,525.6"/>
<path d="M670.7,513.5 A5.7,5.7 0 0 1 670.7,522.7"/>
</g>
<g fill="#fff" stroke="#fff" font-family="Liberation Sans" font-weight="bold">
<text x="580" y="524.1" font-size="16.6" stroke-width="0.8" textLength="51.4" lengthAdjust="spacingAndGlyphs">Sirius</text>
</g>
<clipPath id="xc"><rect x="630" y="511.6" width="40" height="12.4"/></clipPath>
<g stroke="#fff" fill="none" clip-path="url(#xc)">
<path d="M634.9,510 L645.9,525.6 M645.9,510 L634.9,525.6" stroke-width="4.1"/>
<path d="M649.3,524 V511.6 M649.3,517.6 A4.2,4.2 0 0 1 657.7,517.6 V524 M657.7,517.6 A4.2,4.2 0 0 1 666.1,517.6 V524" stroke-width="3.6"/>
</g>
</svg>
</body></html>
